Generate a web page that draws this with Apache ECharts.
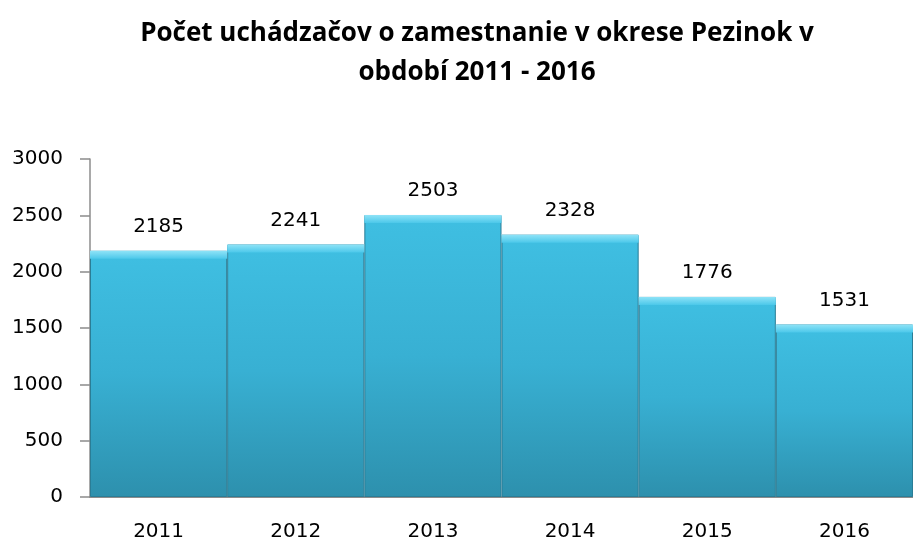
<!DOCTYPE html>
<html>
<head>
<meta charset="utf-8">
<script src="https://cdn.jsdelivr.net/npm/echarts@6/dist/echarts.min.js"></script>
<style>
  html, body { margin: 0; padding: 0; background: #fff; }
  #chart { width: 913px; height: 545px; }
</style>
</head>
<body>
<div id="chart"></div>
<script>
// roky a počty uchádzačov
var years = ['2011', '2012', '2013', '2014', '2015', '2016'];
var counts = [2185, 2241, 2503, 2328, 1776, 1531];
var yTicks = { min: 0, max: 3000, step: 500 };

var myChart = echarts.init(document.getElementById('chart'));

var option = {
  backgroundColor: '#fff',
  animation: false,
  title: {
    text: 'Počet uchádzačov o zamestnanie v okrese Pezinok v\nobdobí 2011 - 2016',
    left: 472,
    top: 9,
    textAlign: 'center',
    textStyle: {
      fontFamily: 'Open Sans',
      fontWeight: 'bold',
      fontSize: 26,
      lineHeight: 39,
      color: '#000'
    }
  },
  grid: {
    left: 90,
    right: -12,
    top: 159,
    bottom: 48
  },
  xAxis: {
    type: 'category',
    data: years,
    axisLine: { lineStyle: { color: '#8c8c8c', width: 2 } },
    axisTick: { show: false },
    axisLabel: {
      margin: 25,
      fontFamily: 'DejaVu Sans',
      fontSize: 20,
      color: '#000'
    }
  },
  yAxis: {
    type: 'value',
    min: yTicks.min,
    max: yTicks.max,
    interval: yTicks.step,
    splitLine: { show: false },
    axisLine: { show: true, lineStyle: { color: '#8c8c8c', width: 1.5 } },
    axisTick: { show: true, length: 10, lineStyle: { color: '#8c8c8c', width: 1.5 } },
    axisLabel: {
      margin: 27,
      fontFamily: 'DejaVu Sans',
      fontSize: 20,
      color: '#000',
      formatter: function (v) { return String(v); }
    }
  },
  series: [
    {
      type: 'bar',
      data: counts,
      barCategoryGap: 0,
      barGap: '-100%',
      z: 2,
      itemStyle: {
        color: new echarts.graphic.LinearGradient(0, 0, 0, 1, [
          { offset: 0, color: '#3fbfe2' },
          { offset: 0.5, color: '#38b0d3' },
          { offset: 1, color: '#2d90ad' }
        ]),
        borderColor: '#2a7d96',
        borderWidth: 1
      },
      label: {
        show: true,
        position: 'top',
        distance: 14,
        fontFamily: 'DejaVu Sans',
        fontSize: 20,
        color: '#000'
      }
    },
    {
      // svetlejší horný okraj stĺpca
      type: 'pictorialBar',
      data: counts,
      barCategoryGap: 0,
      symbol: 'rect',
      symbolPosition: 'end',
      symbolSize: ['100%', 8],
      z: 3,
      itemStyle: {
        color: new echarts.graphic.LinearGradient(0, 0, 0, 1, [
          { offset: 0, color: '#8fe3f7' },
          { offset: 1, color: '#4cc8ea' }
        ])
      },
      silent: true
    }
  ]
};

myChart.setOption(option);
</script>
</body>
</html>
